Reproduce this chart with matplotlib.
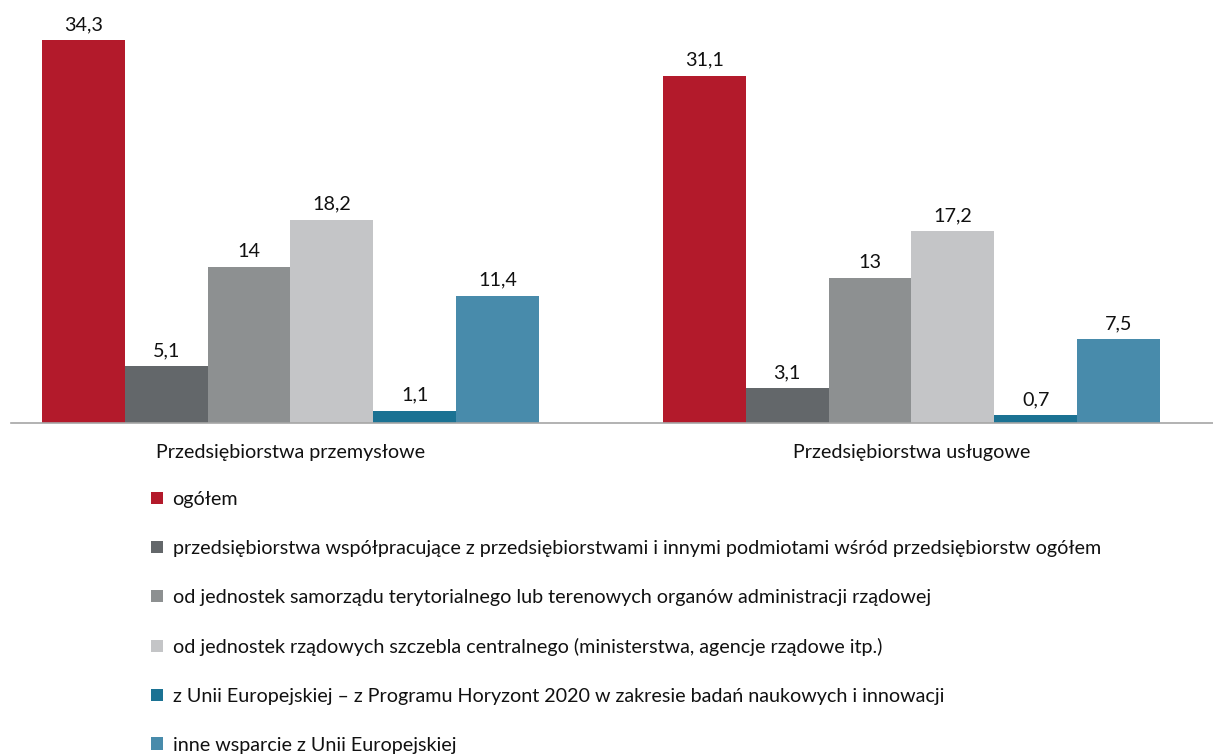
import matplotlib
matplotlib.use("Agg")
import matplotlib.pyplot as plt
import numpy as np
from matplotlib.patches import Patch

plt.rcParams['font.family'] = ['Lato', 'DejaVu Sans']

categories = ["Przedsiębiorstwa przemysłowe", "Przedsiębiorstwa usługowe"]
series_labels = [
    "ogółem",
    "przedsiębiorstwa współpracujące z przedsiębiorstwami i innymi podmiotami wśród przedsiębiorstw ogółem",
    "od jednostek samorządu terytorialnego lub terenowych organów administracji rządowej",
    "od jednostek rządowych szczebla centralnego (ministerstwa, agencje rządowe itp.)",
    "z Unii Europejskiej – z Programu Horyzont 2020 w zakresie badań naukowych i innowacji",
    "inne wsparcie z Unii Europejskiej",
]
values = [
    [34.3, 31.1],
    [5.1, 3.1],
    [14, 13],
    [18.2, 17.2],
    [1.1, 0.7],
    [11.4, 7.5],
]
colors = ["#B31A2B", "#63676A", "#8D9091", "#C4C5C7", "#1B7293", "#488BAB"]

def fmt(v):
    s = ("%g" % v).replace(".", ",")
    return s

FS = 14.2
W, H = 1213, 756
fig = plt.figure(figsize=(W / 100, H / 100), dpi=100)
ax = fig.add_axes([11 / W, (H - 423) / H, 1202 / W, 423 / H])

n = len(values)
bw = 0.8 / n
x = np.arange(len(categories))
for i, (vals, c) in enumerate(zip(values, colors)):
    pos = x - 0.4 + bw * (i + 0.5)
    bars = ax.bar(pos, vals, width=bw, color=c, label=series_labels[i])
    for b, v in zip(bars, vals):
        ax.annotate(fmt(v), (b.get_x() + b.get_width() / 2, v), xytext=(0, 5),
                    textcoords="offset points", ha="center", va="bottom",
                    fontsize=FS, color="#111111")

ax.set_xlim(-0.450, 1.4855)
ax.set_ylim(0, 37.88)
ax.set_yticks([])
for s in ["top", "right", "left"]:
    ax.spines[s].set_visible(False)
ax.spines["bottom"].set_color("#A6A6A6")
ax.spines["bottom"].set_linewidth(1.2)
ax.set_xticks(x)
ax.set_xticklabels(categories, fontsize=FS, color="#111111")
ax.tick_params(axis="x", length=0, pad=15)

handles = [Patch(facecolor=c, edgecolor="none") for c in colors]
fig.legend(handles, series_labels, loc="upper left",
           bbox_to_anchor=(143 / W, 1 - 483 / H), frameon=False,
           fontsize=FS, handlelength=0.6, handleheight=0.6,
           handletextpad=0.5, labelspacing=1.62, borderaxespad=0,
           labelcolor="#111111")

fig.savefig("out.png", dpi=100, facecolor="white")
